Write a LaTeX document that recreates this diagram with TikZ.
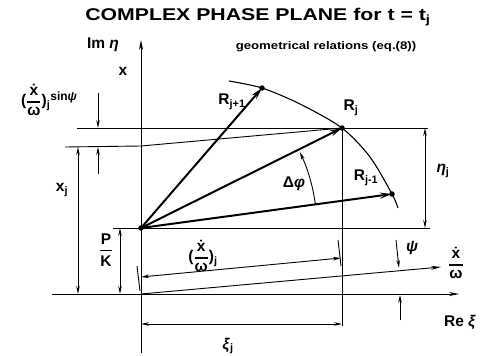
\documentclass[tikz,border=0pt]{standalone}
\usepackage{fontspec}
\setmainfont{Liberation Sans}
\usetikzlibrary{arrows.meta}
\newcommand\fr[2]{$\displaystyle{\hbox{#1}\above 1.3pt\hbox{#2}}$}
\newcommand\sbj[1]{\textsubscript{#1}}
\newcommand\gi[1]{\textit{#1}}
\begin{document}
\begin{tikzpicture}[x=1pt,y=-1pt,
  thin/.style={line width=0.9pt},
  vec/.style={line width=2pt,-{Stealth[length=12pt,width=6pt]}},
  dim/.style={line width=0.9pt,{Stealth[length=8pt,width=3.5pt]}-{Stealth[length=8pt,width=3.5pt]}},
  dimin/.style={line width=0.9pt,-{Stealth[length=8pt,width=3.5pt]}},
  axis/.style={line width=0.9pt,-{Stealth[length=10pt,width=4pt]}},
  lbl/.style={font=\bfseries\fontsize{15.5}{18}\selectfont,inner sep=0pt},
  small/.style={font=\bfseries\fontsize{11}{13}\selectfont,inner sep=0pt},
  pt/.style={circle,fill,inner sep=0pt,minimum size=5.5pt}]
\useasboundingbox (0,0) rectangle (483,356);
% points
\coordinate (O) at (141,228);
\coordinate (Rj) at (342,128);
\coordinate (Rjp) at (262,88);
\coordinate (Rjm) at (392,194);
\coordinate (A0) at (141,294);
% axes
\coordinate (Ybot) at (141,353);
\coordinate (Ytop) at (141,40);
\coordinate (Xl) at (52,294);
\coordinate (Xr) at (459,294);
\coordinate (Tr) at (441,267);
\draw[axis] (Ybot) -- (Ytop);
\draw[axis] (Xl) -- (Xr);
\draw[axis] (A0) -- (Tr);
% construction lines
\coordinate (H1a) at (77,128); \coordinate (H1b) at (428,128);
\draw[thin] (H1a) -- (H1b);
\coordinate (H2a) at (65,147); \coordinate (H2b) at (141,146);
\draw[thin] (H2a) -- (H2b) -- (Rj);
\coordinate (H3a) at (113,228); \coordinate (H3b) at (430,228);
\draw[thin] (H3a) -- (H3b);
\coordinate (Vb) at (342,326);
\draw[thin] (Rj) -- (Vb);
% curve
\draw[line width=1.1pt] plot[smooth] coordinates {(229,81) (262,88) (300,104) (342,128) (370,157) (392,194) (398,208)};
% vectors
\draw[vec] (O) -- (Rjp);
\draw[vec] (O) -- (Rj);
\draw[vec] (O) -- (Rjm);
\node[pt] (dO) at (O) {};
\node[pt] (dRj) at (Rj) {};
\node[pt] (dRjp) at (Rjp) {};
\node[pt] (dRjm) at (Rjm) {};
% delta phi arc
\draw[dimin] (O) ++(-7.7:176) arc[start angle=-7.7,end angle=-25.6,radius=176];
% dimensions
\coordinate (xa) at (78,147); \coordinate (xb) at (78,294);
\draw[dim] (xa) -- (xb);
\coordinate (sa) at (98,93); \coordinate (sb) at (98,128);
\coordinate (sc) at (98,174); \coordinate (sd) at (98,147);
\draw[dimin] (sa) -- (sb);
\draw[dimin] (sc) -- (sd);
\coordinate (pa) at (120,228); \coordinate (pb) at (120,294);
\draw[dim] (pa) -- (pb);
\coordinate (ea) at (425,128); \coordinate (eb) at (425,228);
\draw[dim] (ea) -- (eb);
\coordinate (ka) at (141,324); \coordinate (kb) at (342,324);
\draw[dim] (ka) -- (kb);
\coordinate (wa) at (141,277); \coordinate (wb) at (341,258);
\draw[dim] (wa) -- (wb);
\coordinate (t1a) at (137,266); \coordinate (t1b) at (140,291);
\coordinate (t2a) at (338,240); \coordinate (t2b) at (341,266);
\draw[thin] (t1a) -- (t1b);
\draw[thin] (t2a) -- (t2b);
\coordinate (qa) at (396,240); \coordinate (qb) at (399,268);
\coordinate (qc) at (400,320); \coordinate (qd) at (400,295);
\draw[dimin] (qa) -- (qb);
\draw[dimin] (qc) -- (qd);
% labels
\node[font=\bfseries\fontsize{17}{20}\selectfont,inner sep=0pt] (title) at (258,17) {\scalebox{1.25}[1]{COMPLEX PHASE PLANE for t = t\sbj{j}}};
\node[small] (geo) at (326,47) {\scalebox{1.2}[1]{geometrical relations (eq.(8))}};
\node[lbl] (im) at (103,45) {Im \gi{η}};
\node[lbl] (xlab) at (123,71) {x};
\node[lbl] (lRjp) at (232,102) {R\sbj{j+1}};
\node[lbl] (lRj) at (351,108) {R\sbj{j}};
\node[lbl] (lRjm) at (366,178) {R\sbj{j-1}};
\node[lbl] (ldp) at (294,184) {Δ\gi{φ}};
\node[lbl] (leta) at (443,171) {\gi{η}\sbj{j}};
\node[lbl] (lsin) at (49,100) {(\fr{\.x}{ω})\sbj{j}\raisebox{5pt}{\fontsize{12}{14}\selectfont sin\gi{ψ}}};
\node[lbl] (lxj) at (62,190) {x\sbj{j}};
\node[lbl] (lpk) at (106,250) {\fr{P}{K}};
\node[lbl] (lxw) at (203,256) {(\fr{\.x}{ω})\sbj{j}};
\node[lbl] (lpsi) at (412,248) {\gi{ψ}};
\node[lbl] (lxwax) at (456,263) {\fr{\.x}{ω}};
\node[lbl] (lre) at (460,322) {Re \gi{ξ}};
\node[lbl] (lxi) at (228,346) {\gi{ξ}\sbj{j}};
\end{tikzpicture}
\end{document}
